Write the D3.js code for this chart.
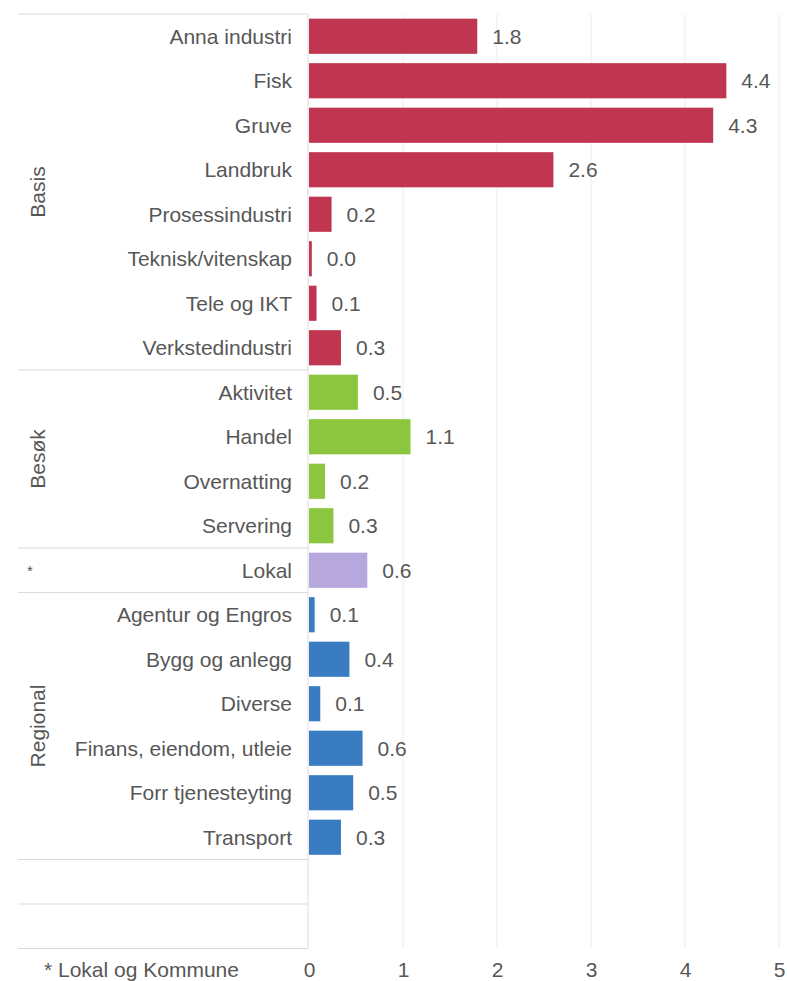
<!DOCTYPE html>
<html><head><meta charset="utf-8">
<script src="https://cdn.jsdelivr.net/npm/d3@7"></script>
<style>body{margin:0;background:#fff;font-family:"Liberation Sans",Arial,sans-serif;}</style>
</head><body><svg id="c" width="787" height="981"></svg>
<script>
const categories = ["Anna industri","Fisk","Gruve","Landbruk","Prosessindustri","Teknisk/vitenskap","Tele og IKT","Verkstedindustri",
  "Aktivitet","Handel","Overnatting","Servering","Lokal",
  "Agentur og Engros","Bygg og anlegg","Diverse","Finans, eiendom, utleie","Forr tjenesteyting","Transport"];
const values = [1.79,4.44,4.3,2.6,0.24,0.03,0.08,0.34, 0.52,1.08,0.17,0.26, 0.62, 0.06,0.43,0.12,0.57,0.47,0.34];
const groups = ["Basis","Basis","Basis","Basis","Basis","Basis","Basis","Basis",
  "Besøk","Besøk","Besøk","Besøk","*",
  "Regional","Regional","Regional","Regional","Regional","Regional"];
const groupNames = ["Basis","Besøk","*","Regional"];
const blankRows = ["_b1","_b2"];
const xTicks = [0,1,2,3,4,5];
const footnote = "* Lokal og Kommune";
const colors = {"Basis":"#c0354f","Besøk":"#8cc63f","*":"#b6a8dc","Regional":"#3a7cc2"};

const svg = d3.select("#c");
const FS = 21;
const x = d3.scaleLinear().domain([0,5]).range([309,779]);
const rows = categories.concat(blankRows);
const y = d3.scaleBand().domain(rows).range([14,948.5]).paddingInner(0.21).paddingOuter(0.105);
const step = y.step();
const textCol = "#575757";

// gridlines
svg.append("g").selectAll("line").data(xTicks.slice(1)).join("line")
  .attr("x1",d=>x(d)).attr("x2",d=>x(d)).attr("y1",14).attr("y2",948)
  .attr("stroke","#ececec").attr("stroke-width",1);
// axis line at 0
svg.append("line").attr("x1",x(0)-1).attr("x2",x(0)-1).attr("y1",14).attr("y2",948)
  .attr("stroke","#dcdcdc").attr("stroke-width",1);

// separators: top, group boundaries, blank rows
const sepY = [14];
groupNames.forEach(g=>{
  const idx = groups.lastIndexOf(g);
  sepY.push(14 + (idx+1)*step);
});
blankRows.forEach((b,i)=>sepY.push(14 + (categories.length+i+1)*step));
svg.append("g").selectAll("line").data(sepY).join("line")
  .attr("x1",18).attr("x2",x(0)-1).attr("y1",d=>d).attr("y2",d=>d)
  .attr("stroke","#dcdcdc").attr("stroke-width",1.2);

// bars
const data = categories.map((c,i)=>({c,v:values[i],g:groups[i]}));
svg.append("g").selectAll("rect").data(data).join("rect")
  .attr("x",x(0)).attr("y",d=>y(d.c)).attr("height",y.bandwidth())
  .attr("width",d=>Math.max(2,x(d.v)-x(0))).attr("fill",d=>colors[d.g]);

// value labels
svg.append("g").selectAll("text").data(data).join("text")
  .attr("x",d=>Math.max(x(d.v),x(0)+2)+15).attr("y",d=>y(d.c)+y.bandwidth()/2)
  .attr("dy","0.36em").attr("font-size",FS).attr("fill",textCol)
  .text(d=>d.v.toFixed(1));

// category labels
svg.append("g").selectAll("text").data(data).join("text")
  .attr("x",292).attr("y",d=>y(d.c)+y.bandwidth()/2).attr("dy","0.36em")
  .attr("text-anchor","end").attr("font-size",FS).attr("fill",textCol).text(d=>d.c);

// group labels
groupNames.forEach(g=>{
  const i0 = groups.indexOf(g), i1 = groups.lastIndexOf(g);
  const cy = 14 + (i0 + i1 + 1)/2*step;
  if(g==="*"){
    svg.append("text").attr("x",30).attr("y",cy+6).attr("text-anchor","middle")
      .attr("font-size",15).attr("fill",textCol).text("*");
  } else {
    svg.append("text").attr("transform",`translate(45,${cy}) rotate(-90)`)
      .attr("text-anchor","middle").attr("font-size",FS).attr("fill",textCol).text(g);
  }
});

// x axis tick labels
const ax = svg.append("g").attr("transform","translate(0,962)")
  .call(d3.axisBottom(x).tickValues(xTicks).tickSize(0).tickPadding(0).tickFormat(d3.format("d")));
ax.select(".domain").remove();
ax.selectAll("text").attr("font-size",FS).attr("fill",textCol).attr("font-family","Liberation Sans, Arial, sans-serif");

svg.append("text").attr("x",44).attr("y",977).attr("font-size",FS).attr("fill",textCol).text(footnote);
</script></body></html>
